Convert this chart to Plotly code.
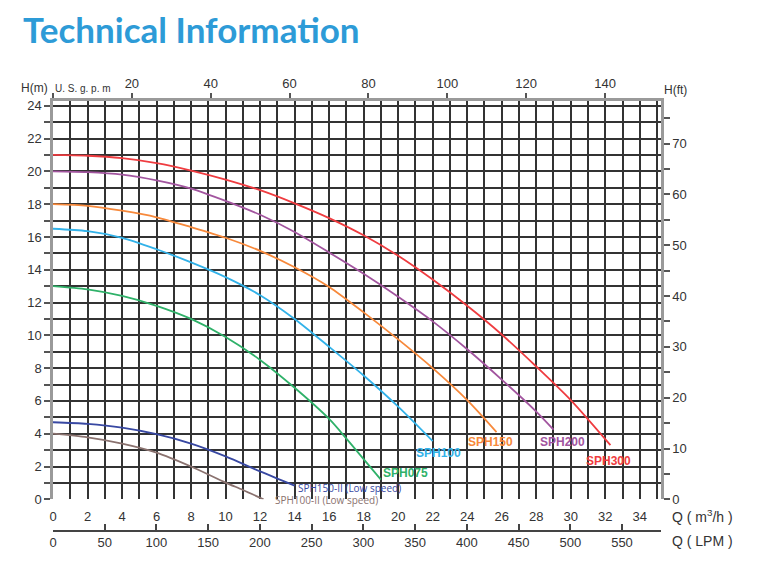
import plotly.graph_objects as go

# ---------------- data ----------------
q_sph300 = [0, 2, 4, 6, 8, 10, 12, 14, 16, 18, 20, 22, 24, 26, 28, 30, 32.3]
h_sph300 = [21.0, 20.95, 20.8, 20.5, 20.05, 19.5, 18.85, 18.05, 17.15, 16.1, 14.85, 13.4, 11.8, 10.05, 8.1, 6.05, 3.3]

q_sph200 = [0, 2, 4, 6, 8, 10, 12, 14, 16, 18, 20, 22, 24, 26, 28, 29.0]
h_sph200 = [20.0, 19.95, 19.8, 19.45, 18.95, 18.2, 17.35, 16.3, 15.05, 13.75, 12.35, 10.85, 9.15, 7.3, 5.35, 4.25]

q_sph150 = [0, 2, 4, 6, 8, 10, 12, 14, 16, 18, 20, 22, 24, 25.7]
h_sph150 = [18.0, 17.9, 17.6, 17.2, 16.6, 15.95, 15.15, 14.15, 12.95, 11.4, 9.75, 8.0, 6.05, 4.1]

q_sph100 = [0, 2, 4, 6, 8, 10, 12, 14, 16, 18, 20, 22]
h_sph100 = [16.5, 16.35, 15.95, 15.25, 14.45, 13.55, 12.45, 11.0, 9.3, 7.55, 5.65, 3.55]

q_sph075 = [0, 2, 4, 6, 8, 10, 12, 14, 16, 17, 18, 19.0]
h_sph075 = [13.0, 12.8, 12.4, 11.8, 11.0, 9.9, 8.5, 6.8, 4.9, 3.7, 2.45, 1.2]

q_sph150_ii = [0, 2, 4, 6, 8, 10, 12, 14]
h_sph150_ii = [4.7, 4.6, 4.37, 3.97, 3.4, 2.62, 1.7, 0.83]

q_sph100_ii = [0, 2, 4, 6, 8, 10, 11, 12.2]
h_sph100_ii = [4.0, 3.78, 3.4, 2.85, 2.0, 1.02, 0.57, 0.0]

series_names = ["SPH300", "SPH200", "SPH150", "SPH100", "SPH075",
                "SPH150-II (Low speed)", "SPH100-II (Low speed)"]
series_colors = ["#ef3c40", "#a2559f", "#f7893b", "#32b2e9", "#2fb169", "#3848a2", "#8a726f"]
series_q = [q_sph300, q_sph200, q_sph150, q_sph100, q_sph075, q_sph150_ii, q_sph100_ii]
series_h = [h_sph300, h_sph200, h_sph150, h_sph100, h_sph075, h_sph150_ii, h_sph100_ii]

# label anchor positions (data coords) and pixel nudges
label_q = [32.17, 29.5, 25.35, 22.32, 20.4, 14.1, 12.75]
label_h = [2.34, 3.5, 3.5, 2.84, 1.58, 0.63, 0.0]
label_dy = [0, 0, 0, 0, 0, 1, -1]

q_m3h_ticks = list(range(0, 36))
q_m3h_text = [str(v) if (v % 2 == 0 and v <= 34) else "" for v in q_m3h_ticks]
h_m_ticks = list(range(0, 25))
h_m_text = [str(v) if v % 2 == 0 else "" for v in h_m_ticks]
gpm_ticks = [0, 20, 40, 60, 80, 100, 120, 140]
gpm_text = ["", "20", "40", "60", "80", "100", "120", "140"]
lpm_ticks = [0, 50, 100, 150, 200, 250, 300, 350, 400, 450, 500, 550]
ft_ticks = [0, 10, 20, 30, 40, 50, 60, 70]

# ---------------- layout geometry ----------------
W, H = 762, 579
ML, MR, MT, MB = 53, 101, 101, 48
PW = W - ML - MR
PH = H - MT - MB
Y0_PX = 499.3
ydom0 = (H - MB - Y0_PX) / PH
X_MAX = 35.23
Y_MAX = 24.29


def px(x):
    return (x - ML) / PW


def py(y):
    return (H - MB - y) / PH


GRID = "#333333"
AX_GRAY = "#9a9a9a"
TXT = "#333333"
FONT = "Liberation Sans, Arial, sans-serif"

fig = go.Figure()

for name, col, qs, hs in zip(series_names, series_colors, series_q, series_h):
    fig.add_trace(go.Scatter(x=qs, y=hs, mode="lines", name=name,
                             line=dict(color=col, width=1.8, shape="spline", smoothing=0.8),
                             showlegend=False, hoverinfo="skip"))

# dummy traces for secondary axes
fig.add_trace(go.Scatter(x=[0], y=[0], xaxis="x2", yaxis="y", mode="lines",
                         line=dict(width=0), showlegend=False, hoverinfo="skip"))
fig.add_trace(go.Scatter(x=[0], y=[0], xaxis="x3", yaxis="y", mode="lines",
                         line=dict(width=0), showlegend=False, hoverinfo="skip"))
fig.add_trace(go.Scatter(x=[0], y=[0], xaxis="x", yaxis="y2", mode="lines",
                         line=dict(width=0), showlegend=False, hoverinfo="skip"))

annotations = []
for i, (name, col) in enumerate(zip(series_names, series_colors)):
    low = "Low" in name
    annotations.append(dict(
        x=label_q[i], y=label_h[i], xref="x", yref="y", text=name, showarrow=False,
        xanchor="left" if low else "center", yanchor="middle", yshift=label_dy[i],
        font=dict(family=FONT if not low else "Open Sans, sans-serif",
                  size=10 if low else 12, color=col,
                  weight="normal" if low else "bold")))

annotations += [
    dict(x=px(21), y=py(29), xref="paper", yref="paper", text="Technical Information",
         showarrow=False, xanchor="left", yanchor="middle",
         font=dict(family="Lato, sans-serif", size=35, color="#2d9bd7", weight="bold")),
    dict(x=px(50), y=py(88), xref="paper", yref="paper", text="H(m)",
         showarrow=False, xanchor="right", yanchor="middle",
         font=dict(family=FONT, size=12, color=TXT)),
    dict(x=px(53), y=py(88), xref="paper", yref="paper", text="U. S. g. p. m",
         showarrow=False, xanchor="left", yanchor="middle",
         font=dict(family=FONT, size=10, color=TXT)),
    dict(x=px(662), y=py(90), xref="paper", yref="paper", text="H(ft)",
         showarrow=False, xanchor="left", yanchor="middle",
         font=dict(family=FONT, size=12, color=TXT)),
    dict(x=px(670), y=py(516), xref="paper", yref="paper", text="Q ( m<sup>3</sup>/h )",
         showarrow=False, xanchor="left", yanchor="middle",
         font=dict(family=FONT, size=14, color=TXT)),
    dict(x=px(670), y=py(541), xref="paper", yref="paper", text="Q ( LPM )",
         showarrow=False, xanchor="left", yanchor="middle",
         font=dict(family=FONT, size=14, color=TXT)),
]

fig.update_layout(
    width=W, height=H,
    margin=dict(l=ML, r=MR, t=MT, b=MB, pad=0),
    paper_bgcolor="white", plot_bgcolor="white",
    font=dict(family=FONT, size=13, color=TXT),
    xaxis=dict(range=[0, X_MAX], tickvals=q_m3h_ticks, ticktext=q_m3h_text,
               showgrid=True, gridcolor=GRID, gridwidth=1.6, zeroline=False,
               showline=False, ticks="", ticklabelstandoff=8,
               tickfont=dict(size=13, color=TXT), anchor="y"),
    xaxis2=dict(range=[0, 154.2], overlaying="x", side="top", anchor="y",
                tickvals=gpm_ticks, ticktext=gpm_text, showgrid=False, zeroline=False,
                showline=True, linecolor=AX_GRAY, linewidth=2.5,
                ticks="outside", ticklen=5, tickcolor="#555", tickwidth=1.5,
                tickfont=dict(size=13, color=TXT)),
    xaxis3=dict(range=[0, 587.7], overlaying="x", side="bottom", anchor="free", position=0,
                tickvals=lpm_ticks, showgrid=False, zeroline=False,
                showline=True, linecolor="#444", linewidth=1.5,
                ticks="inside", ticklen=6, tickcolor="#444", tickwidth=1.5,
                tickfont=dict(size=13, color=TXT)),
    yaxis=dict(range=[0, Y_MAX], domain=[ydom0, 1], tickvals=h_m_ticks, ticktext=h_m_text,
               showgrid=True, gridcolor=GRID, gridwidth=1.6, zeroline=False,
               showline=True, linecolor=AX_GRAY, linewidth=2.5,
               ticks="outside", ticklen=6, tickcolor="#555", tickwidth=1.5,
               tickfont=dict(size=13, color=TXT), anchor="x"),
    yaxis2=dict(range=[0, 78.4], overlaying="y", side="right", anchor="x",
                tickvals=ft_ticks, showgrid=False, zeroline=False,
                showline=True, linecolor=AX_GRAY, linewidth=2.5,
                ticks="outside", ticklen=6, tickcolor="#555", tickwidth=1.5,
                minor=dict(dtick=5, tick0=0, ticks="outside", ticklen=6, tickcolor="#555", tickwidth=1.5),
                tickfont=dict(size=13, color=TXT)),
    annotations=annotations,
)

fig.write_html("out.html")
